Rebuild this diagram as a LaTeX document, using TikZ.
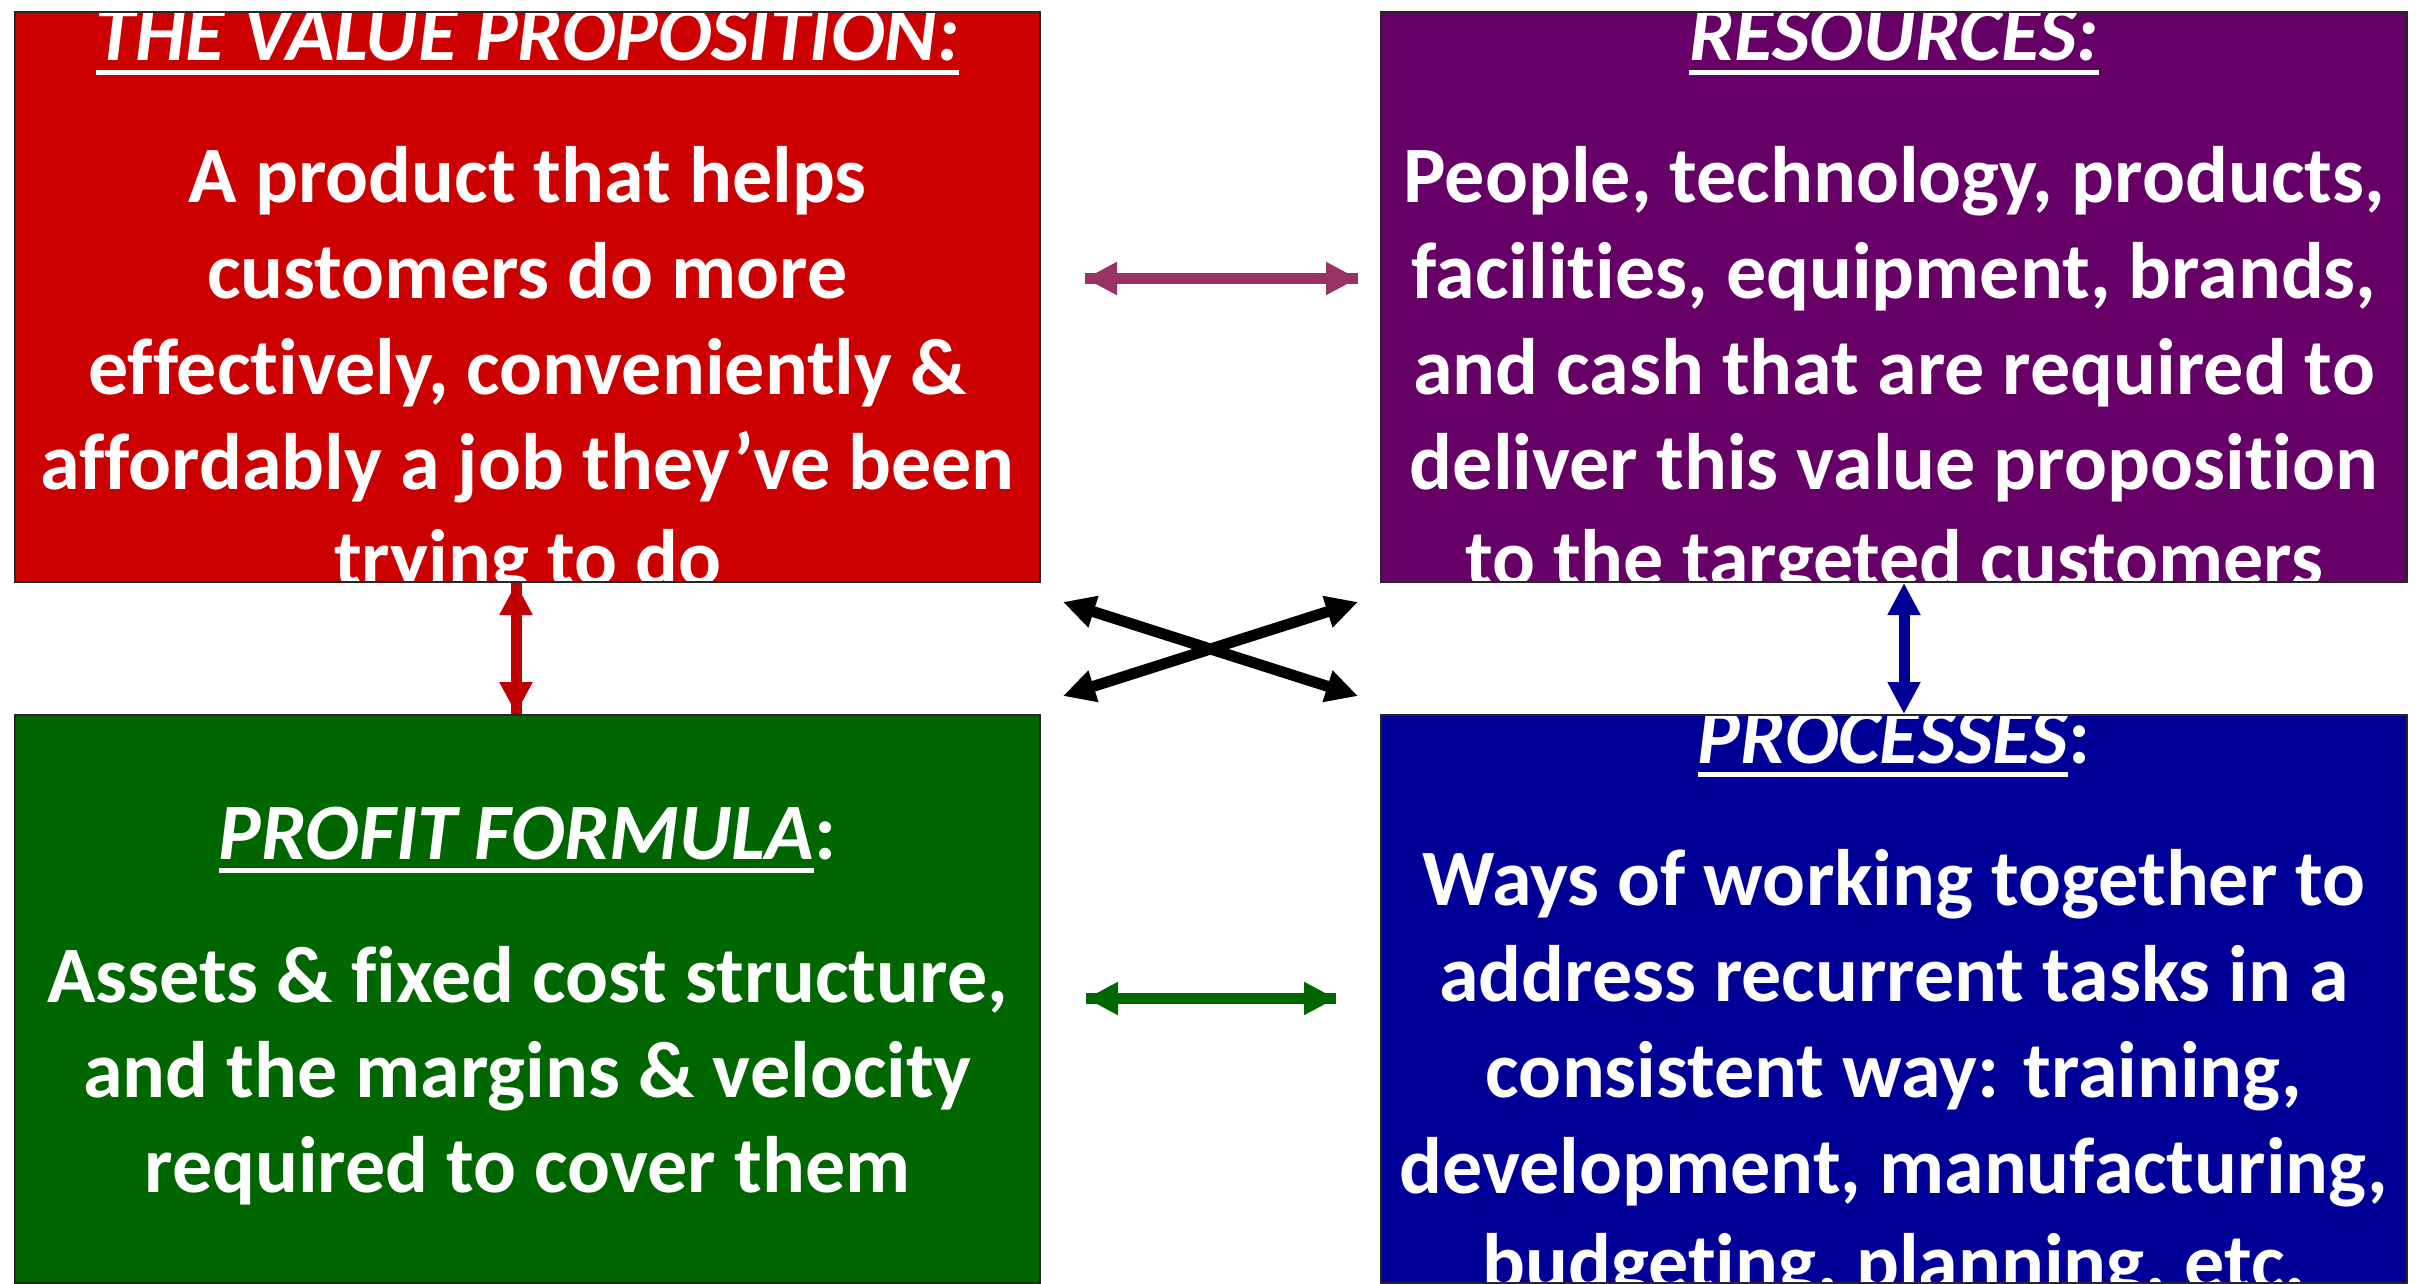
\documentclass[tikz,border=0pt]{standalone}
\usepackage{fontspec}
\setmainfont{Carlito}[Ligatures=NoCommon]
\usetikzlibrary{arrows.meta}
\definecolor{vpred}{HTML}{CC0000}
\definecolor{respurple}{HTML}{660066}
\definecolor{pfgreen}{HTML}{006600}
\definecolor{prblue}{HTML}{000099}
\definecolor{mauve}{HTML}{993366}
\definecolor{arrred}{HTML}{C00000}
\newsavebox\ulbox
\newcommand\myul[1]{\sbox\ulbox{#1}\rlap{\rule[-14pt]{\wd\ulbox}{5pt}}\usebox\ulbox}
\begin{document}
\begin{tikzpicture}[x=1pt,y=-1pt,
  boxfill/.style={draw=none,inner sep=0pt,outer sep=0pt},
  boxborder/.style={draw=black!85,line width=2.5pt},
  txt/.style={text=white,inner sep=0pt,anchor=base,font=\fontsize{80pt}{96pt}\selectfont\bfseries},
  conn/.style={line width=11pt,{Triangle[length=32pt,width=31pt]}-{Triangle[length=32pt,width=31pt]}},
  shaft/.style={line width=11pt}]
\useasboundingbox (0,0) rectangle (2421,1284);
% boxes
\node[boxfill,fill=vpred,minimum width=1025pt,minimum height=570pt] (vp) at (527.5,297) {};
\node[boxfill,fill=respurple,minimum width=1026pt,minimum height=570pt] (res) at (1894,297) {};
\node[boxfill,fill=pfgreen,minimum width=1025pt,minimum height=568pt] (pf) at (527.5,999) {};
\node[boxfill,fill=prblue,minimum width=1026pt,minimum height=568pt] (pr) at (1894,999) {};
% value proposition text
\begin{scope}
\clip (vp.north west) rectangle (vp.south east);
\node[txt] (vpt) at (527.5,61) {\myul{\itshape THE VALUE PROPOSITION:}};
\foreach \lineText [count=\i from 0] in {A product that helps,customers do more,{effectively, conveniently \&},{affordably a job they’ve been},trying to do}
  \node[txt] (vpl\i) at (527.5,{203+95.6*\i}) {\lineText};
\end{scope}
% resources text
\begin{scope}
\clip (res.north west) rectangle (res.south east);
\node[txt] (rest) at (1894,61) {\myul{\itshape RESOURCES:}};
\foreach \lineText [count=\i from 0] in {{People, technology, products,},{facilities, equipment, brands,},and cash that are required to,deliver this value proposition,to the targeted customers}
  \node[txt] (resl\i) at (1894,{203+95.6*\i}) {\lineText};
\end{scope}
% profit formula text
\begin{scope}
\clip (pf.north west) rectangle (pf.south east);
\node[txt] (pft) at (527.5,859) {\myul{\itshape PROFIT FORMULA}:};
\foreach \lineText [count=\i from 0] in {{Assets \& fixed cost structure,},{and the margins \& velocity},required to cover them}
  \node[txt] (pfl\i) at (527.5,{1002+95.2*\i}) {\lineText};
\end{scope}
% processes text
\begin{scope}
\clip (pr.north west) rectangle (pr.south east);
\node[txt] (prt) at (1894,763) {\myul{\itshape PROCESSES}:};
\foreach \lineText [count=\i from 0] in {Ways of working together to,address recurrent tasks in a,{consistent way: training,},{development, manufacturing,},{budgeting, planning, etc.}}
  \node[txt] (prl\i) at (1894,{905+96*\i}) {\lineText};
\end{scope}
% borders
\draw[boxborder] (vp.north west) rectangle (vp.south east);
\draw[boxborder] (res.north west) rectangle (res.south east);
\draw[boxborder] (pf.north west) rectangle (pf.south east);
\draw[boxborder] (pr.north west) rectangle (pr.south east);
% connector end points
\coordinate (vpRes) at (1085,278.5);
\coordinate (resVp) at (1358,278.5);
\coordinate (pfPr) at (1086,998.5);
\coordinate (prPf) at (1336,998.5);
\coordinate (vpPf) at (516,583);
\coordinate (pfVp) at (516,714);
\coordinate (resPr) at (1904,583);
\coordinate (prRes) at (1904,714);
\coordinate (vpX) at (1063,602);
\coordinate (prX) at (1358,696);
\coordinate (pfX) at (1063,696);
\coordinate (resX) at (1358,602);
% connectors
\draw[conn,mauve] (vpRes) -- (resVp);
\draw[shaft,mauve] (resVp) -- (vpRes);
\draw[conn,pfgreen] (pfPr) -- (prPf);
\draw[shaft,pfgreen] (pfPr) -- (prPf);
\draw[conn,arrred] (vpPf) -- (pfVp);
\draw[shaft,arrred] (vpPf) -- (pfVp);
\draw[conn,prblue] (resPr) -- (prRes);
\draw[conn,black] (vpX) -- (prX);
\draw[conn,black] (pfX) -- (resX);
\end{tikzpicture}
\end{document}
